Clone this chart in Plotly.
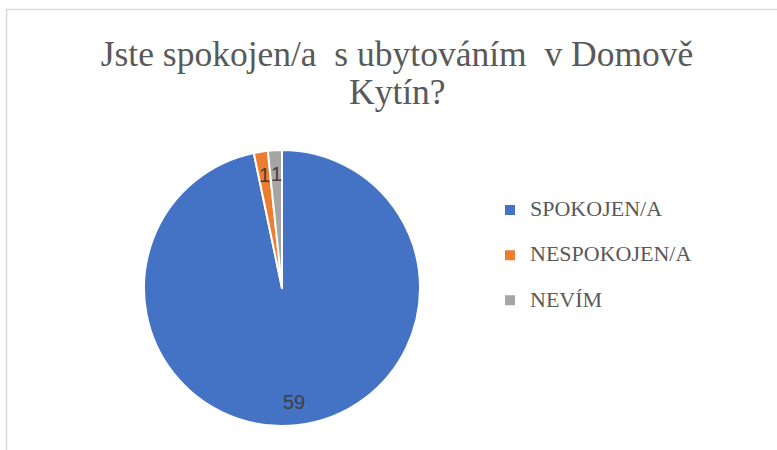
import math
import plotly.graph_objects as go

categories = ["SPOKOJEN/A", "NESPOKOJEN/A", "NEVÍM"]
values = [59, 1, 1]
colors = ["#4472C4", "#ED7D31", "#A5A5A5"]
title_line1 = "Jste spokojen/a\u00a0 s ubytováním\u00a0 v Domově"
title_line2 = "Kytín?"

W, H = 777, 450
cx, cy, R = 282, 288, 138  # pie centre / radius in px

dom_x = [(cx - R) / W, (cx + R) / W]
dom_y = [(H - cy - R) / H, (H - cy + R) / H]

legend_labels = ["<span style='font-size:22px'>" + c + "</span><br>\u00a0" for c in categories]

fig = go.Figure()
fig.add_trace(go.Pie(
    labels=legend_labels,
    values=values,
    sort=False,
    direction="clockwise",
    rotation=0,
    marker=dict(colors=colors, line=dict(color="white", width=2)),
    textinfo="none",
    hoverinfo="value",
    domain=dict(x=dom_x, y=dom_y),
))

# data labels at slice mid-angles
total = sum(values)
cum = 0
for v in values:
    mid = (cum + v / 2) / total * 2 * math.pi
    cum += v
    r = 0.83 * R
    px = cx + r * math.sin(mid)
    py = cy - r * math.cos(mid)
    fig.add_annotation(
        x=px / W, y=1 - py / H, xref="paper", yref="paper",
        text=str(v), showarrow=False,
        font=dict(family="Liberation Sans", size=20, color="#404040"),
        xanchor="center", yanchor="middle",
    )

# title second line
fig.add_annotation(
    x=397 / W, y=1 - 92 / H, xref="paper", yref="paper",
    text=title_line2, showarrow=False,
    font=dict(family="Liberation Serif", size=35.5, color="#595959"),
    xanchor="center", yanchor="middle",
)

# chart border
fig.add_shape(type="rect", xref="paper", yref="paper",
              x0=6.5 / W, y0=-0.1, x1=1.1, y1=1 - 9.5 / H,
              line=dict(color="#D9D9D9", width=1.5), fillcolor="rgba(0,0,0,0)")

fig.update_layout(
    width=W, height=H,
    margin=dict(l=0, r=0, t=0, b=0),
    paper_bgcolor="white", plot_bgcolor="white",
    title=dict(text=title_line1, x=397 / W, xanchor="center",
               y=1 - 54 / H, yanchor="middle",
               font=dict(family="Liberation Serif", size=35.5, color="#595959")),
    showlegend=True,
    legend=dict(x=490 / W, xanchor="left", y=1 - 193 / H, yanchor="top",
                valign="top",
                font=dict(family="Liberation Serif", size=16.2, color="#595959"),
                itemwidth=30, bgcolor="rgba(0,0,0,0)"),
)

fig.write_html("out.html")
